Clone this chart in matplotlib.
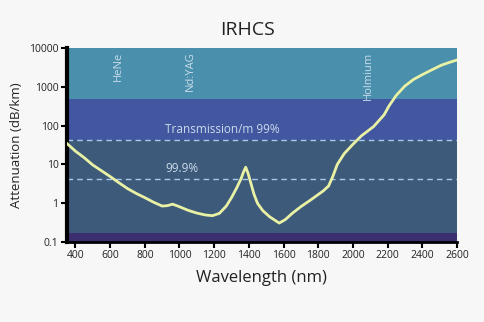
import numpy as np
import matplotlib
matplotlib.use("Agg")
import matplotlib.pyplot as plt

plt.rcParams['font.family'] = ['Open Sans', 'DejaVu Sans']

# attenuation curve
wavelength = [350, 400, 450, 500, 550, 600, 650, 700, 750, 800, 850, 900, 930, 960,
              990, 1050, 1100, 1150, 1190, 1230, 1270, 1300, 1330, 1355, 1370, 1382,
              1395, 1410, 1430, 1450, 1480, 1520, 1575, 1610, 1650, 1700, 1760, 1830,
              1860, 1885, 1910, 1950, 2000, 2050, 2120, 2180, 2210, 2250, 2300, 2350,
              2400, 2460, 2510, 2560, 2600]
attenuation = [35, 22, 15, 9.7, 6.9, 4.9, 3.4, 2.4, 1.8, 1.4, 1.07, 0.85, 0.87, 0.95,
               0.85, 0.66, 0.56, 0.5, 0.48, 0.55, 0.85, 1.4, 2.5, 4.3, 6.5, 8.5,
               6.0, 3.5, 1.7, 1.0, 0.65, 0.45, 0.31, 0.38, 0.55, 0.82, 1.25, 2.1,
               2.8, 5.0, 10, 19, 33, 55, 95, 190, 330, 600, 1050, 1550,
               2050, 2800, 3600, 4300, 4900]

band_edges = [0.1, 0.17, 42, 500, 10000]
band_colors = ['#3c2f70', '#3e5a7b', '#4257a0', '#4a8fab']

transmission = [0.99, 0.999]
trans_labels = ['Transmission/m 99%', '99.9%']

lasers = ['HeNe', 'Nd:YAG', 'Holmium']
laser_wl = [645, 1064, 2090]

xticks = [400, 600, 800, 1000, 1200, 1400, 1600, 1800, 2000, 2200, 2400, 2600]
yticks = [0.1, 1, 10, 100, 1000, 10000]
yticklabels = ['0.1', '1', '10', '100', '1000', '10000']

fig = plt.figure(figsize=(4.84, 3.22), dpi=100, facecolor='#f7f7f7')
ax = fig.add_axes([0.138, 0.248, 0.806, 0.603])
ax.set_yscale('log')
ax.set_xlim(350, 2600)
ax.set_ylim(0.1, 10000)

for i in range(len(band_colors)):
    ax.axhspan(band_edges[i], band_edges[i + 1], color=band_colors[i], lw=0, zorder=0)

for t, lab in zip(transmission, trans_labels):
    db_km = -10 * np.log10(t) * 1000
    ax.axhline(db_km, color='#a9c9ea', lw=1.0, ls=(0, (4, 3)), zorder=1)
    ax.text(916, db_km * 1.22, lab, color='#c9dcea', fontsize=8.5, va='bottom', ha='left')

for name, w in zip(lasers, laser_wl):
    ax.text(w, 8000, name, rotation=90, color='#c9dcea', fontsize=8, ha='center', va='top')

ax.plot(wavelength, attenuation, color='#e9f1a4', lw=2.0, zorder=3,
        solid_joinstyle='round')

ax.set_xticks(xticks)
ax.set_yticks(yticks)
ax.set_yticklabels(yticklabels)
ax.minorticks_off()
ax.tick_params(axis='both', labelsize=7.5, length=4, width=1.5, color='black',
               labelcolor='#222222', pad=2)

for s in ['top', 'right']:
    ax.spines[s].set_visible(False)
ax.spines['left'].set_linewidth(3)
ax.spines['bottom'].set_linewidth(2)

ax.set_xlabel('Wavelength (nm)', fontsize=12, color='#222222', labelpad=6)
ax.set_ylabel('Attenuation (dB/km)', fontsize=9.5, color='#222222', labelpad=4)
fig.text(0.511, 0.907, 'IRHCS', fontsize=14, color='#222222', ha='center', va='center')

fig.savefig('out.png', dpi=100, facecolor=fig.get_facecolor())
